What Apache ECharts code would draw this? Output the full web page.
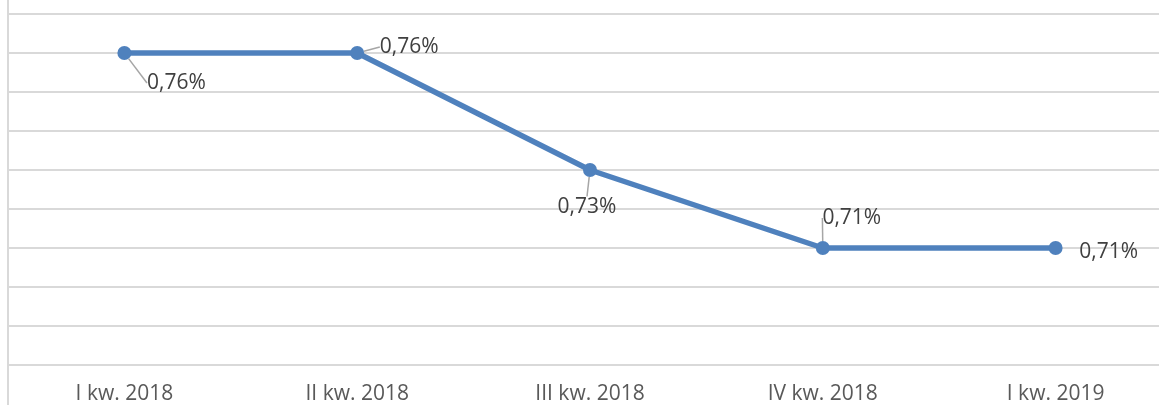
<!DOCTYPE html>
<html>
<head>
<meta charset="utf-8">
<script src="https://cdn.jsdelivr.net/npm/echarts@6/dist/echarts.min.js"></script>
<style>
  html, body { margin: 0; padding: 0; background: #fff; }
  #chart { width: 1159px; height: 405px; }
</style>
</head>
<body>
<div id="chart"></div>
<script>
// kwartały i wskaźnik (%)
var quarters = ['I kw. 2018', 'II kw. 2018', 'III kw. 2018', 'IV kw. 2018', 'I kw. 2019'];
var rate = [0.76, 0.76, 0.73, 0.71, 0.71];

// przesunięcia etykiet względem punktu (dx, dy)
var labelShift = [[52, 30], [52, -6], [-3, 37], [29, -30], [53, 4]];

var myChart = echarts.init(document.getElementById('chart'));

var option = {
  animation: false,
  textStyle: { fontFamily: 'Open Sans' },
  grid: { left: 8, width: 1164, top: 14, bottom: 40, containLabel: false, outerBoundsMode: 'none' },
  graphic: [{
    type: 'line',
    shape: { x1: 8, y1: 0, x2: 8, y2: 405 },
    style: { stroke: '#d9d9d9', lineWidth: 2 },
    z: 1
  }],
  xAxis: {
    type: 'category',
    data: quarters,
    boundaryGap: true,
    axisLine: { show: false },
    axisTick: { show: false },
    axisLabel: { color: '#595959', fontSize: 21, margin: 19, fontFamily: 'Open Sans' }
  },
  yAxis: {
    type: 'value',
    min: 0.68,
    max: 0.77,
    interval: 0.01,
    axisLine: { show: false },
    axisTick: { show: false },
    axisLabel: { show: false },
    splitLine: { lineStyle: { color: '#d9d9d9', width: 2 } }
  },
  series: [{
    type: 'line',
    data: rate.map(function (v, i) {
      return {
        value: v,
        labelLine: { show: i !== rate.length - 1 }
      };
    }),
    symbol: 'circle',
    symbolSize: 14,
    lineStyle: { color: '#4F81BD', width: 5.5 },
    itemStyle: { color: '#4F81BD' },
    label: {
      show: true,
      position: 'inside',
      color: '#404040',
      fontSize: 21,
      fontFamily: 'Open Sans',
      formatter: function (p) { return p.value.toFixed(2).replace('.', ',') + '%'; }
    },
    labelLine: { show: true, lineStyle: { color: '#a6a6a6', width: 1.5 } },
    labelLayout: function (p) {
      var s = labelShift[p.dataIndex];
      return { dx: s[0], dy: s[1] };
    }
  }]
};

myChart.setOption(option);
</script>
</body>
</html>
